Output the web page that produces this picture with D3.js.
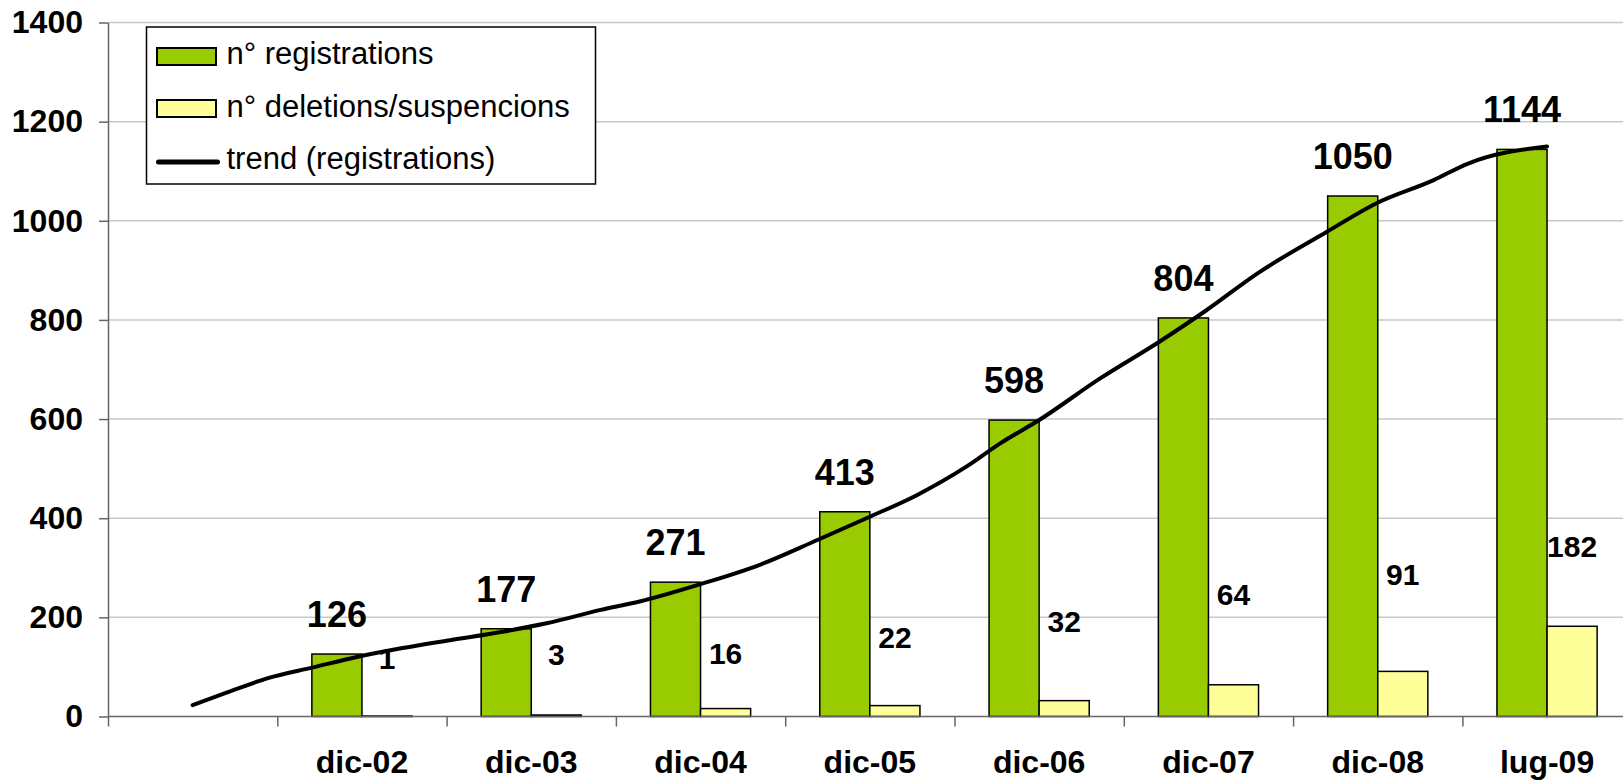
<!DOCTYPE html>
<html>
<head>
<meta charset="utf-8">
<script src="https://cdn.jsdelivr.net/npm/d3@7"></script>
<style>
    body { margin: 0; background: #fff; }
    svg { display: block; }
</style>
</head>
<body>
<div id="vis"></div>
<script>
// first category is empty, the trend line starts there
const categories = ['', 'dic-02', 'dic-03', 'dic-04', 'dic-05', 'dic-06', 'dic-07', 'dic-08', 'lug-09'];
const registrations = [null, 126, 177, 271, 413, 598, 804, 1050, 1144];
const deletions = [null, 1, 3, 16, 22, 32, 64, 91, 182];
// the deletion labels were dragged by hand in the original, value where each one sits
const deletionLabelAt = [null, 118, 126, 128, 160, 193, 246, 288, 343];

// trend (registrations): position in category index, value
const trendAt = [0, 0.2, 0.45, 0.71, 0.97, 1.24, 1.52, 1.83, 2.09, 2.41, 2.64, 3.0, 3.35, 3.69, 3.98, 4.28, 4.57, 4.77, 5.0, 5.36, 5.71, 5.99, 6.29, 6.7, 6.99, 7.33, 7.53, 8.0];
const trendValues = [23, 48, 78, 99, 120, 138, 154, 171, 188, 215, 232, 267, 306, 356, 400, 447, 504, 551, 598, 682, 756, 820, 894, 978, 1035, 1082, 1115, 1150];

const yTicks = [0, 200, 400, 600, 800, 1000, 1200, 1400];
const seriesNames = ['n° registrations', 'n° deletions/suspencions', 'trend (registrations)'];
const colors = ['#99cc00', '#ffff99'];

const width = 1623;
const height = 784;
const font = "'Liberation Sans', Arial, Helvetica, sans-serif";

const svg = d3.select('#vis')
    .append('svg')
    .attr('width', width)
    .attr('height', height);

const x = d3.scaleBand()
    .domain(categories)
    .range([108, 108 + 169.3 * categories.length])
    .padding(0);

const xs = d3.scaleBand()
    .domain(['reg', 'del'])
    .range([0, x.bandwidth()])
    .paddingInner(0)
    .paddingOuter(0.69);

// continuous version of the category axis, for the trend line and the tick marks
const xt = d3.scaleLinear()
    .domain([-0.5, categories.length - 0.5])
    .range(x.range());

const y = d3.scaleLinear()
    .domain([0, 1400])
    .range([716.5, 22.5]);

renderChart();
renderLegend();

function renderChart() {
    // grid
    svg.append('g')
        .selectAll('line')
        .data(yTicks.filter(d => d > 0))
        .join('line')
        .attr('x1', 108)
        .attr('x2', width)
        .attr('y1', d => y(d))
        .attr('y2', d => y(d))
        .attr('stroke', '#c8c8c8')
        .attr('stroke-width', 1.5);

    // bars
    const groups = svg.append('g')
        .selectAll('g')
        .data(categories.map((c, i) => ({cat: c, reg: registrations[i], del: deletions[i]})).filter(d => d.reg != null))
        .join('g')
        .attr('transform', d => 'translate(' + x(d.cat) + ',0)');

    groups.append('rect')
        .attr('x', xs('reg'))
        .attr('y', d => y(d.reg))
        .attr('width', xs.bandwidth())
        .attr('height', d => y(0) - y(d.reg))
        .attr('fill', colors[0])
        .attr('stroke', 'black')
        .attr('stroke-width', 1.5);

    groups.append('rect')
        .attr('x', xs('del'))
        .attr('y', d => y(d.del))
        .attr('width', xs.bandwidth())
        .attr('height', d => y(0) - y(d.del))
        .attr('fill', colors[1])
        .attr('stroke', 'black')
        .attr('stroke-width', 1.5);

    // y axis
    const yAxis = svg.append('g')
        .attr('transform', 'translate(108,0)')
        .call(d3.axisLeft(y).tickValues(yTicks).tickFormat(d3.format('d')).tickSize(9).tickSizeOuter(0).tickPadding(16));

    yAxis.selectAll('text')
        .attr('font-family', font)
        .attr('font-size', '32px')
        .attr('font-weight', 'bold')
        .attr('fill', 'black');

    // x axis: tick marks sit between the categories
    const xAxis = svg.append('g')
        .attr('transform', 'translate(0,' + y(0) + ')')
        .call(d3.axisBottom(xt).tickValues(d3.range(-0.5, categories.length - 1)).tickSize(10).tickSizeOuter(0).tickFormat(''));

    xAxis.select('.domain')
        .attr('d', 'M108,0H' + width);

    const xLabels = svg.append('g')
        .attr('transform', 'translate(0,' + y(0) + ')')
        .call(d3.axisBottom(x).tickSize(0).tickPadding(34));

    xLabels.select('.domain').remove();

    xLabels.selectAll('text')
        .attr('font-family', font)
        .attr('font-size', '32px')
        .attr('font-weight', 'bold')
        .attr('fill', 'black');

    svg.selectAll('.domain, .tick line')
        .attr('stroke', '#666')
        .attr('stroke-width', 1.5);

    // trend line
    const line = d3.line()
        .x((d, i) => xt(trendAt[i]))
        .y(d => y(d))
        .curve(d3.curveMonotoneX);

    svg.append('path')
        .datum(trendValues)
        .attr('d', line)
        .attr('fill', 'none')
        .attr('stroke', 'black')
        .attr('stroke-width', 4)
        .attr('stroke-linecap', 'round')
        .attr('stroke-linejoin', 'round');

    // value labels
    groups.append('text')
        .attr('x', xs('reg') + xs.bandwidth() / 2)
        .attr('y', d => y(d.reg) - 27)
        .attr('text-anchor', 'middle')
        .attr('font-family', font)
        .attr('font-size', '36px')
        .attr('font-weight', 'bold')
        .text(d => d.reg);

    groups.append('text')
        .attr('x', xs('del') + xs.bandwidth() / 2)
        .attr('y', (d, i) => y(deletionLabelAt[i + 1]))
        .attr('dy', '0.36em')
        .attr('text-anchor', 'middle')
        .attr('font-family', font)
        .attr('font-size', '30px')
        .attr('font-weight', 'bold')
        .text(d => d.del);
}

function renderLegend() {
    const legend = svg.append('g')
        .attr('transform', 'translate(146.5,27)');

    legend.append('rect')
        .attr('x', 0)
        .attr('y', 0)
        .attr('width', 449)
        .attr('height', 157)
        .attr('fill', 'white')
        .attr('stroke', 'black')
        .attr('stroke-width', 1.5);

    for (var i = 0; i < 2; i++) {
        legend.append('rect')
            .attr('x', 10.5)
            .attr('y', 21 + i * 52)
            .attr('width', 59)
            .attr('height', 17)
            .attr('fill', colors[i])
            .attr('stroke', 'black')
            .attr('stroke-width', 2);
    }

    legend.append('line')
        .attr('x1', 12)
        .attr('x2', 71)
        .attr('y1', 135)
        .attr('y2', 135)
        .attr('stroke', 'black')
        .attr('stroke-width', 5)
        .attr('stroke-linecap', 'round');

    for (var i = 0; i < seriesNames.length; i++) {
        legend.append('text')
            .attr('x', 80)
            .attr('y', 37 + i * 52.5)
            .attr('font-family', font)
            .attr('font-size', '31px')
            .attr('fill', 'black')
            .text(seriesNames[i]);
    }
}
</script>
</body>
</html>
